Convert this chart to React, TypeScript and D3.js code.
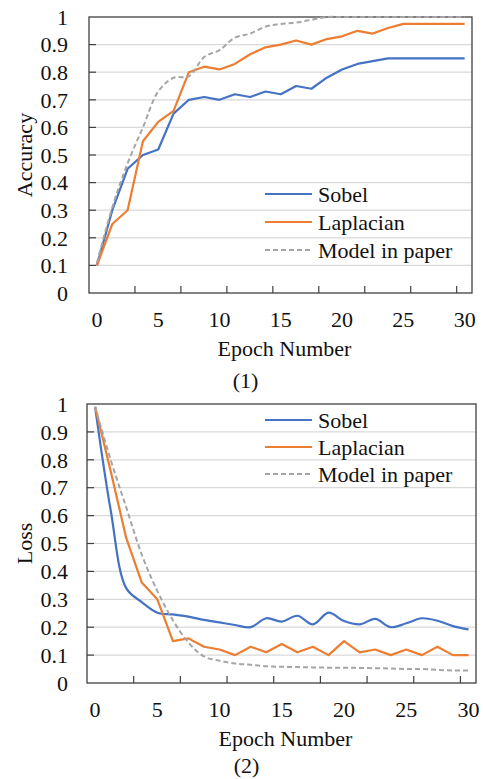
import { useEffect, useRef } from "react";
import * as d3 from "d3";

// epochs sampled in the figure (25 points across 0..30)
const epochs = [
  0, 1.25, 2.5, 3.75, 5, 6.25, 7.5, 8.75, 10, 11.25, 12.5, 13.75, 15, 16.25,
  17.5, 18.75, 20, 21.25, 22.5, 23.75, 25, 26.25, 27.5, 28.75, 30,
];

const accSobel = [
  0.1, 0.3, 0.45, 0.5, 0.52, 0.65, 0.7, 0.71, 0.7, 0.72, 0.71, 0.73, 0.72,
  0.75, 0.74, 0.78, 0.81, 0.83, 0.84, 0.85, 0.85, 0.85, 0.85, 0.85, 0.85,
];
const accLaplacian = [
  0.1, 0.25, 0.3, 0.55, 0.62, 0.66, 0.8, 0.82, 0.81, 0.83, 0.865, 0.89, 0.9,
  0.915, 0.9, 0.92, 0.93, 0.95, 0.94, 0.96, 0.975, 0.975, 0.975, 0.975, 0.975,
];
const accModel = [
  0.11, 0.31, 0.47, 0.6, 0.73, 0.78, 0.785, 0.855, 0.88, 0.925, 0.94, 0.965,
  0.975, 0.98, 0.99, 1, 1, 1, 1, 1, 1, 1, 1, 1, 1,
];

const lossSobel = [
  0.99, 0.62, 0.34, 0.29, 0.252, 0.246, 0.238, 0.226, 0.217, 0.208, 0.2,
  0.232, 0.22, 0.241, 0.21, 0.252, 0.222, 0.21, 0.23, 0.2, 0.214, 0.232,
  0.223, 0.204, 0.192,
];
const lossLaplacian = [
  0.99, 0.76, 0.52, 0.36, 0.3, 0.15, 0.16, 0.13, 0.12, 0.1, 0.13, 0.11, 0.14,
  0.11, 0.13, 0.1, 0.15, 0.11, 0.12, 0.1, 0.12, 0.1, 0.13, 0.1, 0.1,
];
const lossModel = [
  0.99, 0.8, 0.63, 0.46, 0.33, 0.225, 0.145, 0.095, 0.08, 0.07, 0.065, 0.06,
  0.058, 0.057, 0.056, 0.055, 0.055, 0.054, 0.053, 0.052, 0.05, 0.05, 0.047,
  0.045, 0.045,
];

const seriesNames = ["Sobel", "Laplacian", "Model in paper"];
const xLabels = [0, 5, 10, 15, 20, 25, 30];
const xTickMarks = [3.1, 6.85, 10.6, 14.35, 18.1, 21.85, 25.6, 29.35];
const yTicks = [0, 0.1, 0.2, 0.3, 0.4, 0.5, 0.6, 0.7, 0.8, 0.9, 1];

const colors = ["#4472C4", "#ED7D31", "#A5A5A5"];
const font = "Liberation Serif, DejaVu Serif, Times New Roman, serif";

type Panel = {
  left: number;
  right: number;
  top: number;
  bottom: number;
  series: number[][];
  smooth: boolean[];
  yTitle: string;
  caption: string;
  captionGap: number;
  legendTop: number;
  legendStep: number;
};

export default function App() {
  const svgRef = useRef<SVGSVGElement | null>(null);

  useEffect(() => {
    const width = 483;
    const height = 779;
    const svg = d3
      .select(svgRef.current)
      .attr("width", width)
      .attr("height", height)
      .attr("font-family", font)
      .style("background", "#fff");
    svg.selectAll("*").remove();

    const panels: Panel[] = [
      {
        left: 89, right: 472, top: 17, bottom: 293,
        series: [accSobel, accLaplacian, accModel],
        smooth: [false, false, true],
        yTitle: "Accuracy", caption: "(1)", captionGap: 95,
        legendTop: 194, legendStep: 28,
      },
      {
        left: 87, right: 476, top: 404, bottom: 683,
        series: [lossSobel, lossLaplacian, lossModel],
        smooth: [true, false, true],
        yTitle: "Loss", caption: "(2)", captionGap: 90,
        legendTop: 420, legendStep: 27,
      },
    ];

    panels.forEach((p) => {
      const g = svg.append("g");
      const x = d3.scaleLinear().domain([-0.65, 30.6]).range([p.left, p.right]);
      const y = d3.scaleLinear().domain([0, 1]).range([p.bottom, p.top]);

      // gridlines
      g.selectAll(".grid")
        .data(yTicks.slice(1, -1))
        .enter()
        .append("line")
        .attr("x1", p.left)
        .attr("x2", p.right)
        .attr("y1", (d) => y(d))
        .attr("y2", (d) => y(d))
        .attr("stroke", "#d9d9d9")
        .attr("stroke-width", 1.2);

      // inner ticks on y
      g.selectAll(".ytick")
        .data(yTicks.slice(1, -1))
        .enter()
        .append("line")
        .attr("x1", p.left)
        .attr("x2", p.left + 7)
        .attr("y1", (d) => y(d))
        .attr("y2", (d) => y(d))
        .attr("stroke", "#404040")
        .attr("stroke-width", 1.2);

      // inner ticks on x
      g.selectAll(".xtick")
        .data(xTickMarks)
        .enter()
        .append("line")
        .attr("x1", (d) => x(d))
        .attr("x2", (d) => x(d))
        .attr("y1", p.bottom)
        .attr("y2", p.bottom - 7)
        .attr("stroke", "#404040")
        .attr("stroke-width", 1.2);

      // frame
      g.append("rect")
        .attr("x", p.left)
        .attr("y", p.top)
        .attr("width", p.right - p.left)
        .attr("height", p.bottom - p.top)
        .attr("fill", "none")
        .attr("stroke", "#404040")
        .attr("stroke-width", 1.3);

      // y labels
      g.selectAll(".ylab")
        .data(yTicks)
        .enter()
        .append("text")
        .attr("x", 68)
        .attr("y", (d) => y(d))
        .attr("dy", "0.35em")
        .attr("text-anchor", "end")
        .attr("font-size", 22)
        .attr("fill", "#111")
        .text((d) => String(d));

      // x labels
      g.selectAll(".xlab")
        .data(xLabels)
        .enter()
        .append("text")
        .attr("x", (d) => x(d))
        .attr("y", p.bottom + 34)
        .attr("text-anchor", "middle")
        .attr("font-size", 22)
        .attr("fill", "#111")
        .text((d) => String(d));

      g.append("text")
        .attr("x", (p.left + p.right) / 2 + 4)
        .attr("y", p.bottom + 63)
        .attr("text-anchor", "middle")
        .attr("font-size", 22)
        .attr("fill", "#111")
        .text("Epoch Number");

      g.append("text")
        .attr("x", (p.left + p.right) / 2 - 35)
        .attr("y", p.bottom + p.captionGap)
        .attr("text-anchor", "middle")
        .attr("font-size", 22)
        .attr("fill", "#111")
        .text(p.caption);

      g.append("text")
        .attr("transform", `translate(32, ${(p.top + p.bottom) / 2}) rotate(-90)`)
        .attr("text-anchor", "middle")
        .attr("font-size", 22)
        .attr("fill", "#111")
        .text(p.yTitle);

      // lines
      p.series.forEach((vals, si) => {
        const line = d3
          .line<number>()
          .x((_, i) => x(epochs[i]))
          .y((d) => y(d))
          .curve(p.smooth[si] ? d3.curveCatmullRom.alpha(0.5) : d3.curveLinear);
        g.append("path")
          .datum(vals)
          .attr("d", line)
          .attr("fill", "none")
          .attr("stroke", colors[si])
          .attr("stroke-width", si === 2 ? 2 : 2.2)
          .attr("stroke-dasharray", si === 2 ? "5,3" : null)
          .attr("stroke-linejoin", "round");
      });

      // legend
      seriesNames.forEach((name, si) => {
        const ly = p.legendTop + si * p.legendStep;
        g.append("line")
          .attr("x1", 265)
          .attr("x2", 312)
          .attr("y1", ly)
          .attr("y2", ly)
          .attr("stroke", colors[si])
          .attr("stroke-width", si === 2 ? 2 : 2.2)
          .attr("stroke-dasharray", si === 2 ? "5,3" : null);
        g.append("text")
          .attr("x", 318)
          .attr("y", ly)
          .attr("dy", "0.35em")
          .attr("font-size", 22)
          .attr("fill", "#111")
          .text(name);
      });
    });
  }, []);

  return (
    <svg
      ref={svgRef}
      style={{ position: "absolute", left: 0, top: 0, display: "block" }}
    ></svg>
  );
}
